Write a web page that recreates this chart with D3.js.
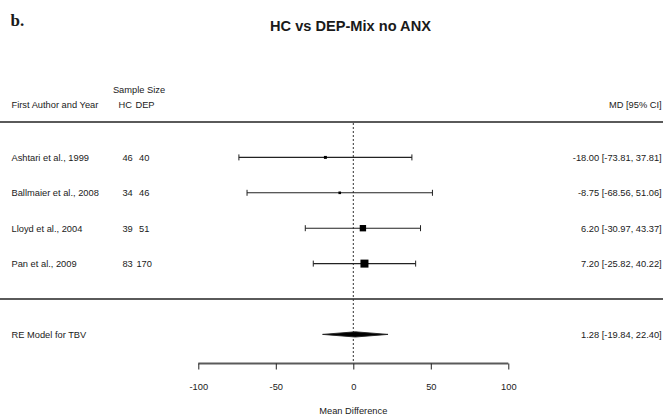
<!DOCTYPE html>
<html>
<head>
<meta charset="utf-8">
<script src="https://cdn.jsdelivr.net/npm/d3@7"></script>
<style>
  html, body { margin: 0; padding: 0; background: #fff; }
  svg { display: block; }
  text { font-family: "Liberation Sans", Arial, sans-serif; fill: #1a1a1a; }
</style>
</head>
<body>
<svg id="chart" width="663" height="416"></svg>
<script>
// Study-level data: mean differences in total brain volume with 95% CIs
const studies   = ["Ashtari et al., 1999", "Ballmaier et al., 2008", "Lloyd et al., 2004", "Pan et al., 2009"];
const nHC       = [46, 34, 39, 83];
const nDEP      = [40, 46, 51, 170];
const md        = [-18.00, -8.75, 6.20, 7.20];
const ciLower   = [-73.81, -68.56, -30.97, -25.82];
const ciUpper   = [37.81, 51.06, 43.37, 40.22];

// Pooled random-effects estimate
const summaryLabel = "RE Model for TBV";
const summaryMD    = 1.28;
const summaryLower = -19.84;
const summaryUpper = 22.40;

const xTicks = [-100, -50, 0, 50, 100];

const svg = d3.select("#chart");
const W = 663;

// plain hyphen-minus for negative numbers
const locale = d3.formatLocale({ decimal: ".", thousands: ",", grouping: [3], currency: ["", ""], minus: "-" });
const fmt = locale.format(".2f");
const fmtInt = locale.format("d");
const ciText = (m, l, u) => `${fmt(m)} [${fmt(l)}, ${fmt(u)}]`;

// Horizontal effect scale and vertical row scale
const x = d3.scaleLinear().domain([-100, 100]).range([198.3, 508.3]);
const y = d3.scaleLinear().domain([0, 5]).range([299, 122]);

// study rows from top: 4,3,2,1 ; separator at 0 ; summary at -1 ; top rule at 5
const rowOf = i => studies.length - i;

// Panel letter and title
svg.append("text").attr("x", 10.5).attr("y", 26)
  .style("font-family", "'Liberation Serif', 'Times New Roman', serif")
  .style("font-weight", "bold").style("font-size", "17px").text("b.");

svg.append("text").attr("x", 350.5).attr("y", 30.5).attr("text-anchor", "middle")
  .style("font-weight", "bold").style("font-size", "14.6px").text("HC vs DEP-Mix no ANX");

const fs = "9.3px";
const colHC = 127.6, colDEP = 144.2;

// Column headers
svg.append("text").attr("x", 139).attr("y", y(5.92) + 3.3).attr("text-anchor", "middle")
  .style("font-size", fs).text("Sample Size");
svg.append("text").attr("x", 11.5).attr("y", y(5.5) + 3.3).style("font-size", fs).text("First Author and Year");
svg.append("text").attr("x", 125.3).attr("y", y(5.5) + 3.3).attr("text-anchor", "middle").style("font-size", fs).text("HC");
svg.append("text").attr("x", 145).attr("y", y(5.5) + 3.3).attr("text-anchor", "middle").style("font-size", fs).text("DEP");
svg.append("text").attr("x", 661.7).attr("y", y(5.5) + 3.3).attr("text-anchor", "end").style("font-size", fs).text("MD [95% CI]");

// Horizontal rules above and below the study rows
[5, 0].forEach(r => {
  svg.append("line").attr("x1", 0).attr("x2", W).attr("y1", y(r)).attr("y2", y(r))
    .attr("stroke", "#5a5a5a").attr("stroke-width", 2);
});

// Reference line at zero
svg.append("line").attr("x1", x(0)).attr("x2", x(0)).attr("y1", y(5) + 1).attr("y2", 363)
  .attr("stroke", "#333").attr("stroke-width", 1).attr("stroke-dasharray", "2,2");

// Marker size proportional to inverse-variance weight (from CI width)
const se = ciLower.map((l, i) => (ciUpper[i] - l) / (2 * 1.96));
const wts = se.map(s => 1 / (s * s));
const size = d3.scaleLinear().domain(d3.extent(wts)).range([2.6, 8]);

const rows = svg.append("g").selectAll("g").data(studies).join("g")
  .attr("transform", (d, i) => `translate(0,${y(rowOf(i))})`);

rows.append("text").attr("x", 11.5).attr("y", 3.3).style("font-size", fs).text(d => d);
rows.append("text").attr("x", colHC).attr("y", 3.3).attr("text-anchor", "middle").style("font-size", fs)
  .text((d, i) => nHC[i]);
rows.append("text").attr("x", colDEP).attr("y", 3.3).attr("text-anchor", "middle").style("font-size", fs)
  .text((d, i) => nDEP[i]);
rows.append("text").attr("x", 661.7).attr("y", 3.3).attr("text-anchor", "end").style("font-size", fs)
  .text((d, i) => ciText(md[i], ciLower[i], ciUpper[i]));

// Confidence interval whiskers with end caps
rows.append("line").attr("x1", (d, i) => x(ciLower[i])).attr("x2", (d, i) => x(ciUpper[i]))
  .attr("y1", 0).attr("y2", 0).attr("stroke", "#222").attr("stroke-width", 1.1);
rows.append("line").attr("x1", (d, i) => x(ciLower[i])).attr("x2", (d, i) => x(ciLower[i]))
  .attr("y1", -3).attr("y2", 3).attr("stroke", "#222").attr("stroke-width", 1);
rows.append("line").attr("x1", (d, i) => x(ciUpper[i])).attr("x2", (d, i) => x(ciUpper[i]))
  .attr("y1", -3).attr("y2", 3).attr("stroke", "#222").attr("stroke-width", 1);

// Point estimates
rows.append("rect")
  .attr("x", (d, i) => x(md[i]) - size(wts[i]) / 2)
  .attr("y", (d, i) => -size(wts[i]) / 2)
  .attr("width", (d, i) => size(wts[i]))
  .attr("height", (d, i) => size(wts[i]))
  .attr("fill", "#000");

// Summary estimate diamond
const ys = y(-1);
svg.append("text").attr("x", 11.5).attr("y", ys + 3.3).style("font-size", fs).text(summaryLabel);
svg.append("text").attr("x", 661.7).attr("y", ys + 3.3).attr("text-anchor", "end").style("font-size", fs)
  .text(ciText(summaryMD, summaryLower, summaryUpper));
svg.append("polygon")
  .attr("points", [
    [x(summaryLower), ys], [x(summaryMD), ys - 2.6], [x(summaryUpper), ys], [x(summaryMD), ys + 2.6]
  ].map(p => p.join(",")).join(" "))
  .attr("fill", "#000").attr("stroke", "#222").attr("stroke-width", 0.9);

// Bottom axis
const axisG = svg.append("g").attr("transform", "translate(0,363.5)")
  .call(d3.axisBottom(x).tickValues(xTicks).tickSize(6).tickPadding(14).tickFormat(fmtInt));
axisG.select(".domain").attr("stroke", "#5a5a5a").attr("stroke-width", 2)
  .attr("d", `M${x(-100)},0H${x(100)}`);
axisG.selectAll(".tick line").attr("stroke", "#222");
axisG.selectAll(".tick text").style("font-size", fs).style("font-family", "'Liberation Sans', Arial, sans-serif").attr("fill", "#1a1a1a");

svg.append("text").attr("x", x(0)).attr("y", 413.5).attr("text-anchor", "middle")
  .style("font-size", fs).text("Mean Difference");
</script>
</body>
</html>
